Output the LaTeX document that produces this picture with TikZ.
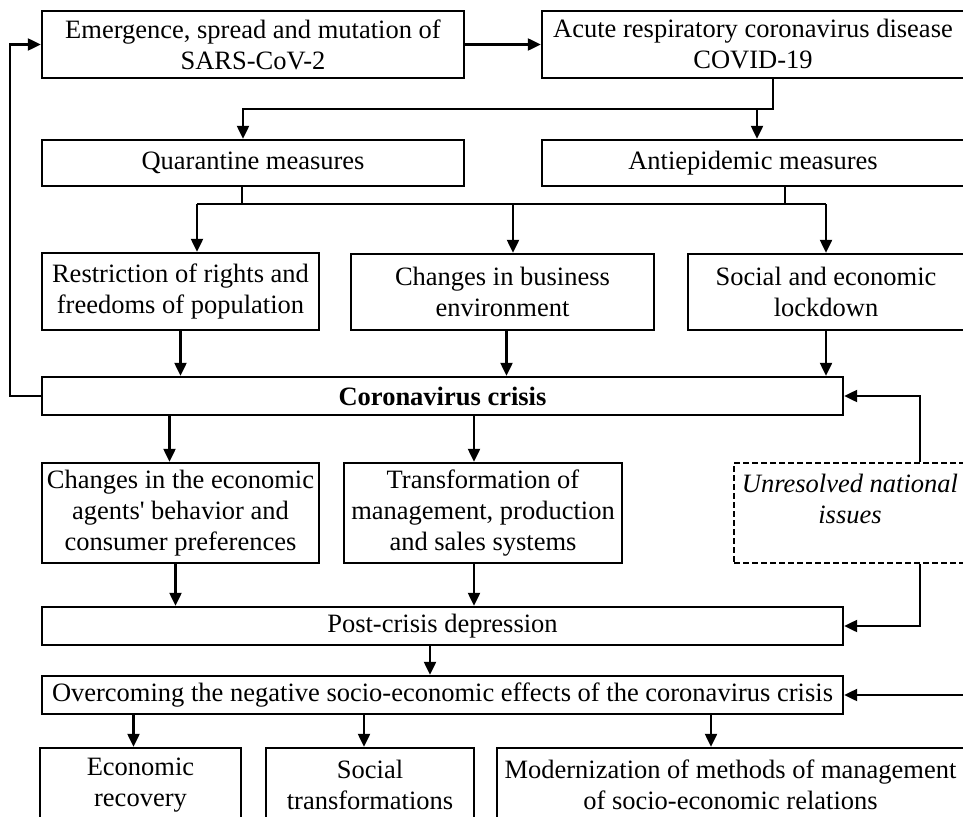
\documentclass[tikz,border=0pt]{standalone}
\usepackage{fontspec}
\setmainfont{Liberation Serif}
\usetikzlibrary{arrows.meta}
\newcommand{\txtsz}{\fontsize{26.5}{31}\selectfont}
\begin{document}
\begin{tikzpicture}[x=1pt,y=-1pt,
  box/.style={draw, line width=2.3pt, inner sep=0pt, align=center, font=\txtsz},
  dbox/.style={draw, dashed, dash pattern=on 6pt off 3pt, line width=1.8pt, inner sep=0pt},
  conn/.style={line width=2.1pt},
  arr/.style={conn, -{Triangle[length=13pt,width=12pt]}}]
\useasboundingbox (0,0) rectangle (963,816);
\clip (0,0) rectangle (963,816);
\fill[white] (0,0) rectangle (963,816);
% boxes
\node[box, minimum width=422pt, minimum height=67pt] (em) at (253,44.5) {Emergence, spread and mutation of\\SARS-CoV-2};
\node[box, minimum width=422pt, minimum height=67pt] (ac) at (753,44.5) {Acute respiratory coronavirus disease\\COVID-19};
\node[box, minimum width=422pt, minimum height=46pt] (qu) at (253,163) {Quarantine measures};
\node[box, minimum width=422pt, minimum height=46pt] (an) at (753,163) {Antiepidemic measures};
\node[box, minimum width=277pt, minimum height=77pt] (re) at (180.5,291.5) {Restriction of rights and\\freedoms of population};
\node[box, minimum width=303pt, minimum height=76pt] (bu) at (502.5,292) {Changes in business\\environment};
\node[box, minimum width=276pt, minimum height=76pt] (lo) at (826,292) {Social and economic\\lockdown};
\node[box, minimum width=801pt, minimum height=38pt] (cr) at (442.5,396) {\bfseries Coronavirus crisis};
\node[box, minimum width=277pt, minimum height=100pt] (ch) at (180.5,513) {Changes in the economic\\agents\textquotesingle\ behavior and\\consumer preferences};
\node[box, minimum width=278pt, minimum height=100pt] (tr) at (483,513) {Transformation of\\management, production\\and sales systems};
\node[dbox, minimum width=232pt, minimum height=100pt] (un) at (850,513) {};
\node[font=\txtsz\itshape, align=center, inner sep=0pt] (unt) at (850,499) {Unresolved national\\issues};
\node[box, minimum width=801pt, minimum height=38pt] (pc) at (442.5,626) {Post-crisis depression};
\node[box, minimum width=801pt, minimum height=38pt] (ov) at (442.5,695) {Overcoming the negative socio-economic effects of the coronavirus crisis};
\node[box, minimum width=201pt, minimum height=74pt] (er) at (140.5,785) {Economic\\recovery};
\node[box, minimum width=208pt, minimum height=74pt] (st) at (370,785) {Social\\transformations};
\node[box, minimum width=467pt, minimum height=74pt] (mo) at (730.5,785) {Modernization of methods of management\\of socio-economic relations};
% helper coordinates
\coordinate (h1) at (243,109);
\coordinate (h2L) at (197,204);
\coordinate (h2R) at (826,204);
\coordinate (h2M) at (513,204);
\coordinate (lft) at (10,0);
\coordinate (rgt) at (975,0);
% connectors
\draw[arr] (em) -- (ac);
\draw[arr] ([xshift=20pt]ac.south) |- (h1) -- (h1 |- qu.north);
\draw[arr] ([xshift=4pt]an.north |- h1) -- ([xshift=4pt]an.north);
\draw[conn] ([xshift=-11pt]qu.south) -- ([xshift=-11pt]qu.south |- h2L);
\draw[conn] ([xshift=32pt]an.south) -- ([xshift=32pt]an.south |- h2L);
\draw[conn] (h2L) -- (h2R);
\draw[arr] (h2L) -- (h2L |- re.north);
\draw[arr] (h2M) -- (h2M |- bu.north);
\draw[arr] (h2R) -- (lo.north);
\draw[arr] (re.south) -- (re.south |- cr.north);
\draw[arr] ([xshift=4pt]bu.south) -- ([xshift=4pt]bu.south |- cr.north);
\draw[arr] (lo.south) -- (lo.south |- cr.north);
\draw[arr] (cr.west) -- (cr.west -| lft) |- (em.west);
\draw[arr] ([xshift=-11pt]ch.north |- cr.south) -- ([xshift=-11pt]ch.north);
\draw[arr] ([xshift=-9pt]tr.north |- cr.south) -- ([xshift=-9pt]tr.north);
\draw[arr] ([xshift=70pt]un.north) |- (cr.east);
\draw[arr] ([xshift=70pt]un.south) |- (pc.east);
\draw[arr] ([xshift=-5pt]ch.south) -- ([xshift=-5pt]ch.south |- pc.north);
\draw[arr] ([xshift=-9pt]tr.south) -- ([xshift=-9pt]tr.south |- pc.north);
\draw[arr] ([xshift=-12.5pt]pc.south) -- ([xshift=-12.5pt]pc.south |- ov.north);
\draw[arr] (ov.east -| rgt) -- (ov.east);
\draw[arr] ([xshift=-7pt]er.north |- ov.south) -- ([xshift=-7pt]er.north);
\draw[arr] ([xshift=-6pt]st.north |- ov.south) -- ([xshift=-6pt]st.north);
\draw[arr] ([xshift=-19.5pt]mo.north |- ov.south) -- ([xshift=-19.5pt]mo.north);
\end{tikzpicture}
\end{document}
